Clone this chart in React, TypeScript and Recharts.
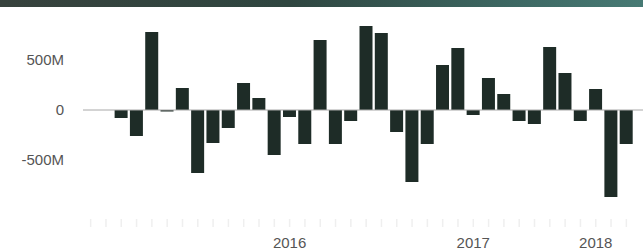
import React from 'react';
import { BarChart, Bar, XAxis, YAxis, ReferenceLine } from 'recharts';

// Period categories (36 slots, the first two are empty)
const categories: string[] = [
  'p01', 'p02', 'p03', 'p04', 'p05', 'p06', 'p07', 'p08', 'p09', 'p10', 'p11', 'p12',
  'p13', 'p14', 'p15', 'p16', 'p17', 'p18', 'p19', 'p20', 'p21', 'p22', 'p23', 'p24',
  'p25', 'p26', 'p27', 'p28', 'p29', 'p30', 'p31', 'p32', 'p33', 'p34', 'p35', 'p36',
];

// Values in millions
const values: (number | null)[] = [
  null, null,
  -80, -260, 780, -15, 220, -630, -330, -180, 270, 120,
  -450, -70, -340, 700, -340, -110, 840, 770, -220, -720,
  -340, 450, 620, -50, 320, 160, -110, -140, 630, 370,
  -110, 210, -870, -340,
];

// Year labels shown under specific categories
const yearLabels: string[] = [
  '', '', '', '', '', '', '', '', '', '', '', '', '',
  '2016', '', '', '', '', '', '', '', '', '', '', '',
  '2017', '', '', '', '', '', '', '',
  '2018', '', '',
];

const yTicks: number[] = [-500, 0, 500];

const data = categories.map((c, i) => ({ category: c, value: values[i], year: yearLabels[i] }));

const FONT = 'Arial, "Liberation Sans", sans-serif';

const XTick = (props: any) => {
  const { x, y, index } = props;
  const label = yearLabels[index] || '';
  return (
    <g>
      <line x1={x} x2={x} y1={y + 1} y2={y + 9} stroke="#efefef" strokeWidth={1.5} />
      {label ? (
        <text x={x} y={y + 30} textAnchor="middle" fontSize={15} fill="#555" fontFamily={FONT}>
          {label}
        </text>
      ) : null}
    </g>
  );
};

export default function App() {
  return (
    <div style={{ position: 'absolute', top: 0, left: 0, width: 643, height: 250, background: '#fff' }}>
      <div
        style={{
          position: 'absolute',
          top: 0,
          left: 0,
          width: 643,
          height: 7,
          background: 'linear-gradient(to right, #37423d, #2f4640 45%, #3d6863 80%, #477a74)',
        }}
      />
      <BarChart
        width={643}
        height={250}
        data={data}
        margin={{ top: 10, right: 0, bottom: 0, left: 0 }}
        barCategoryGap={0}
      >
        <XAxis
          dataKey="category"
          axisLine={false}
          tickLine={false}
          interval={0}
          height={40}
          padding={{ left: 0, right: 9 }}
          tick={(p: any) => <XTick {...p} />}
        />
        <YAxis
          width={83}
          domain={[-1000, 1000]}
          ticks={yTicks}
          axisLine={false}
          tickLine={false}
          tickMargin={13}
          tick={{ fontSize: 15, fill: '#555', fontFamily: FONT }}
          tickFormatter={(v: number) => (v === 0 ? '0' : `${v}M`)}
        />
        <ReferenceLine y={0} stroke="#a8a8a8" strokeWidth={1} />
        <Bar dataKey="value" fill="#1e2c27" barSize={13} isAnimationActive={false} />
      </BarChart>
    </div>
  );
}
